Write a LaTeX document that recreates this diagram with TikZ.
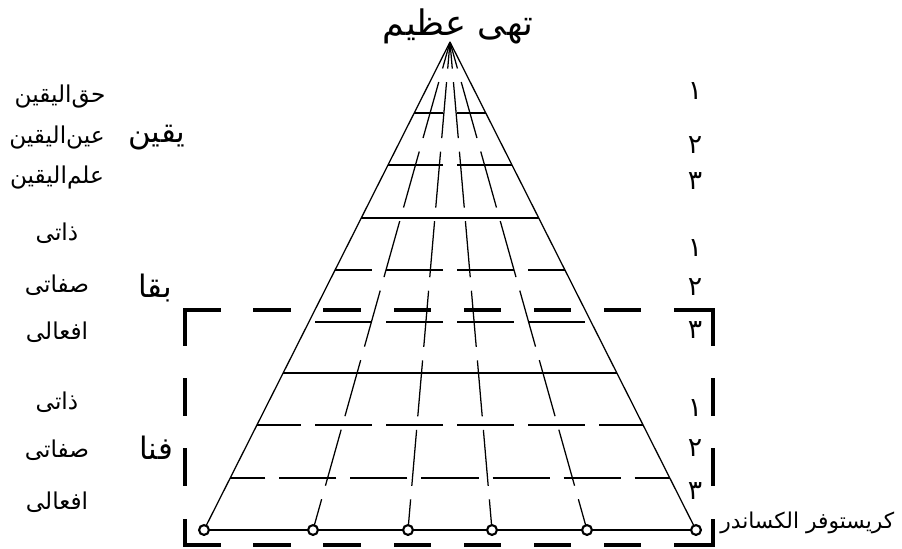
\documentclass[tikz,border=0pt]{standalone}
\usepackage{fontspec}
\usepackage{tikz}
\usetikzlibrary{calc}
\newfontfamily\farsi[Script=Arabic]{DejaVu Sans}
\TeXXeTstate=1

\begin{document}
\begin{tikzpicture}[x=0.025cm,y=-0.025cm,
    word/.style={font=\farsi\fontsize{16.5}{19}\selectfont,inner sep=0pt},
    authorlbl/.style={font=\farsi\fontsize{15.5}{18}\selectfont,inner sep=0pt},
    head/.style={font=\farsi\fontsize{22}{26}\selectfont,inner sep=0pt},
    big/.style={font=\farsi\fontsize{25}{30}\selectfont,inner sep=0pt},
    digit/.style={font=\farsi\fontsize{19}{22}\selectfont,inner sep=0pt},
    side/.style={line width=0.9pt},
    rayin/.style={line width=0.9pt,dash pattern=on 1.406cm off 0.339cm,dash phase=0.740cm},
    rayout/.style={line width=0.9pt,dash pattern=on 1.454cm off 0.351cm,dash phase=0.766cm},
    grid/.style={line width=0.8pt,dash pattern=on 1.425cm off 0.35cm},
    band/.style={line width=1.8pt},
    frame/.style={line width=2.2pt,line cap=rect,dash pattern=on 0.85cm off 0.9cm},
    dot/.style={circle,draw,line width=1.5pt,fill=white,minimum size=7pt,inner sep=0pt}
  ]
  \useasboundingbox (0,0) rectangle (902,548);

  % apex and base points
  \coordinate (A) at (450,42);
  \foreach \n/\d in {0/-246,1/-137,2/-42,3/42,4/137,5/246}
    \coordinate (b\n) at (450+\d,530);

  % rows
  \foreach \y in {113,165,270,322,425}{
    \pgfmathsetmacro\hw{(\y-42)/488*246}
    \draw[grid,dash phase=1.6cm] (450,\y) -- ++(-\hw,0);
    \draw[grid,dash phase=1.6cm] (450,\y) -- ++(\hw,0);
  }
  \foreach \y in {478}{
    \pgfmathsetmacro\hw{(\y-42)/488*246}
    \draw[grid,dash phase=0.7125cm] (450,\y) -- ++(-\hw,0);
    \draw[grid,dash phase=0.7125cm] (450,\y) -- ++(\hw,0);
  }
  \foreach \y in {218,373}{
    \pgfmathsetmacro\hw{(\y-42)/488*246}
    \draw[band] (450-\hw,\y) -- (450+\hw,\y);
  }

  % rays
  \draw[rayout] (A) -- (b1);
  \draw[rayin] (A) -- (b2);
  \draw[rayin] (A) -- (b3);
  \draw[rayout] (A) -- (b4);
  \draw[side] (A) -- (b0);
  \draw[side] (A) -- (b5);
  \draw[band] (b0) -- (b5);
  \foreach \n in {0,...,5}
    \node[dot] (p\n) at (b\n) {};

  % frame
  \coordinate (tl) at (185,310);
  \coordinate (tr) at (713,310);
  \coordinate (bl) at (185,545);
  \coordinate (br) at (713,545);
  \draw[frame] (tl) -- (tr);
  \draw[frame] (tl) -- (bl);
  \draw[frame] (tr) -- (br);
  \draw[frame] (bl) -- (br);

  % texts
  \node[big] (title) at (458,26) {\beginR تهی عظیم\endR};
  \node[word] (haq) at (60,97) {\beginR حق^^^^200cالیقین\endR};
  \node[word] (ain) at (57,138) {\beginR عین^^^^200cالیقین\endR};
  \node[word] (ilm) at (57,178) {\beginR علم^^^^200cالیقین\endR};
  \node[head] (yaqin) at (157,138) {\beginR یقین\endR};
  \node[word] (zat1) at (57,233) {\beginR ذاتی\endR};
  \node[word] (sif1) at (57,285) {\beginR صفاتی\endR};
  \node[word] (afa1) at (57,332) {\beginR افعالی\endR};
  \node[head] (baqa) at (155,288) {\beginR بقا\endR};
  \node[word] (zat2) at (57,402) {\beginR ذاتی\endR};
  \node[word] (sif2) at (57,450) {\beginR صفاتی\endR};
  \node[word] (afa2) at (57,502) {\beginR افعالی\endR};
  \node[head] (fana) at (156,448) {\beginR فنا\endR};
  \foreach \y/\t in {91/۱,145/۲,181/۳,248/۱,287/۲,330/۳,408/۱,448/۲,491/۳}
    \node[digit] at (695,\y) {\t};
  \node[authorlbl,anchor=west] (author) at (720,523) {\beginR کریستوفر الکساندر\endR};
\end{tikzpicture}
\end{document}
